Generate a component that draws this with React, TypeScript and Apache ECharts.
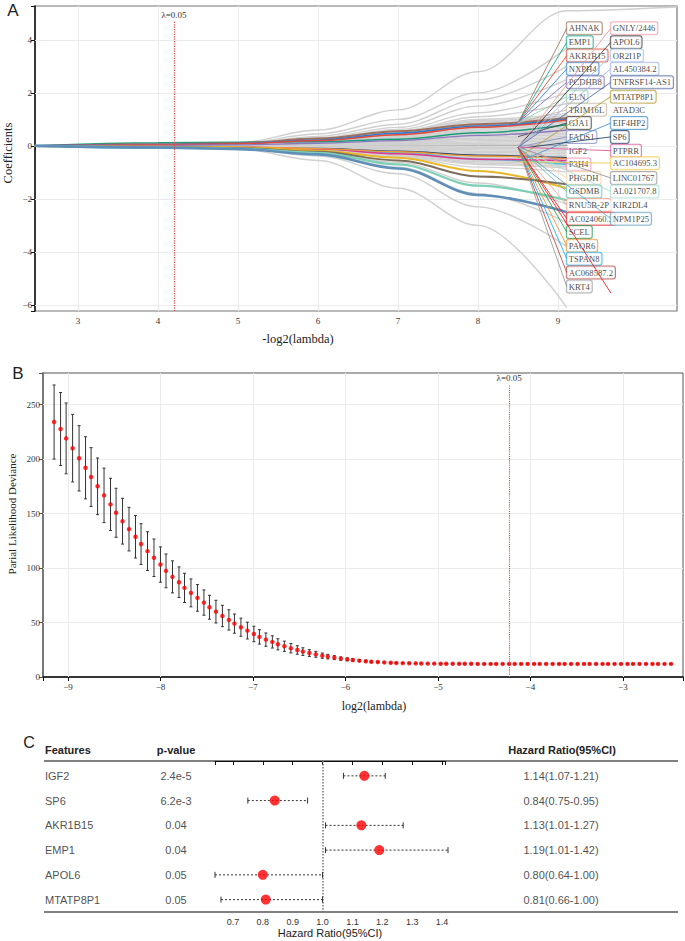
import { useEffect, useRef } from 'react';
import * as echarts from 'echarts';

// ---------------- Panel A: coefficient paths ----------------
const COEF_X = [2.46, 4, 5, 6, 7, 8, 9.11, 10.49];
const GREY_PATHS: number[][] = [
  [0, 0.05, 0.12, 0.6, 1.36, 2.8, 5.1, 5.24],
  [0, 0.04, 0.1, 0.45, 1.0, 2.0, 3.7],
  [0, 0.03, 0.08, 0.36, 0.82, 1.74, 3.0],
  [0, 0.03, 0.07, 0.3, 0.7, 1.5, 2.5],
  [0, 0.02, 0.06, 0.26, 0.62, 1.25, 2.0],
  [0, 0.02, 0.05, 0.22, 0.55, 1.1, 1.6],
  [0, 0.04, 0.1, 0.3, 0.56, 1.0, 1.22],
  [0, 0.03, 0.09, 0.28, 0.52, 0.95, 1.15],
  [0, 0.04, 0.09, 0.27, 0.5, 0.9, 1.1],
  [0, 0.03, 0.08, 0.26, 0.47, 0.85, 1.03],
  [0, 0.03, 0.08, 0.24, 0.44, 0.8, 0.97],
  [0, 0.03, 0.07, 0.22, 0.41, 0.75, 0.9],
  [0, 0.03, 0.07, 0.21, 0.39, 0.7, 0.85],
  [0, 0.02, 0.06, 0.19, 0.36, 0.65, 0.79],
  [0, 0.02, 0.06, 0.18, 0.33, 0.6, 0.72],
  [0, 0.02, 0.05, 0.16, 0.3, 0.55, 0.66],
  [0, 0.02, 0.05, 0.15, 0.28, 0.5, 0.6],
  [0, 0.02, 0.04, 0.13, 0.25, 0.45, 0.55],
  [0, 0.02, 0.04, 0.12, 0.22, 0.4, 0.49],
  [0, 0.01, 0.04, 0.1, 0.19, 0.35, 0.42],
  [0, 0.01, 0.03, 0.09, 0.17, 0.3, 0.36],
  [0, 0.01, 0.03, 0.08, 0.14, 0.25, 0.3],
  [0, 0.01, 0.02, 0.06, 0.11, 0.2, 0.24],
  [0, 0.01, 0.02, 0.05, 0.08, 0.15, 0.18],
  [0, 0.01, 0.01, 0.03, 0.06, 0.1, 0.12],
  [0, 0, 0.01, 0.02, 0.03, 0.05, 0.06],
  [0, 0, 0, 0, 0, 0, 0],
  [0, 0, -0.01, -0.02, -0.03, -0.05, -0.06],
  [0, -0.01, -0.01, -0.03, -0.06, -0.1, -0.12],
  [0, -0.01, -0.02, -0.05, -0.08, -0.15, -0.18],
  [0, -0.01, -0.02, -0.06, -0.11, -0.2, -0.24],
  [0, -0.01, -0.03, -0.08, -0.14, -0.25, -0.3],
  [0, -0.01, -0.03, -0.09, -0.17, -0.3, -0.36],
  [0, -0.02, -0.04, -0.11, -0.19, -0.35, -0.42],
  [0, -0.02, -0.04, -0.12, -0.22, -0.4, -0.48],
  [0, -0.02, -0.05, -0.14, -0.25, -0.45, -0.54],
  [0, -0.02, -0.05, -0.15, -0.28, -0.5, -0.6],
  [0, -0.02, -0.06, -0.17, -0.3, -0.55, -0.66],
  [0, -0.03, -0.06, -0.18, -0.33, -0.6, -0.72],
  [0, -0.03, -0.07, -0.2, -0.36, -0.65, -0.78],
  [0, -0.03, -0.07, -0.21, -0.39, -0.7, -0.84],
  [0, -0.03, -0.08, -0.23, -0.42, -0.8, -0.98],
  [0, -0.03, -0.06, -0.25, -0.62, -1.4, -2.2],
  [0, -0.03, -0.07, -0.3, -0.8, -1.8, -2.9],
  [0, -0.04, -0.09, -0.38, -1.05, -2.3, -3.8],
  [0, -0.05, -0.12, -0.55, -1.6, -3.0, -6.1],
];
const COLOR_PATHS: number[][] = [
  [0, 0.12, 0.14, 0.16, 0.25, 0.5, 0.8],
  [0, 0.06, 0.1, 0.28, 0.55, 0.82, 1.05],
  [0, 0.05, 0.09, 0.22, 0.48, 0.75, 1.0],
  [0, 0.04, 0.08, 0.2, 0.42, 0.7, 0.98],
  [0, 0.02, 0.04, 0.1, 0.2, 0.4, 0.6],
  [0, -0.04, -0.07, -0.1, -0.2, -0.35, -0.45],
  [0, -0.09, -0.1, -0.12, -0.25, -0.5, -0.7],
  [0, -0.02, -0.04, -0.12, -0.3, -0.5, -0.55],
  [0, -0.02, -0.04, -0.1, -0.22, -0.38, -0.48],
  [0, -0.03, -0.06, -0.18, -0.45, -0.95, -1.6],
  [0, -0.04, -0.08, -0.22, -0.55, -1.15, -1.45],
  [0, -0.05, -0.1, -0.26, -0.7, -1.5, -2.05],
  [0, -0.06, -0.12, -0.32, -0.85, -1.85, -2.5],
];
const COLOR_PATH_COLORS = ['#1b9e77', '#a0705a', '#2b7bd6', '#e04a3a', '#8a78c0', '#26456e', '#4cc0e0', '#e2358f', '#f09a35', '#e8b828', '#7d6e5c', '#7dcfb5', '#5f8fb8'];
const COLOR_PATH_WIDTHS = [1.5, 2, 1.6, 1.5, 1.3, 1.5, 1.5, 1.5, 1.3, 2, 2, 2.2, 2.6];
const LAMBDA_A = 4.2;
const A_X_TICKS = [2.4625, 3, 4, 5, 6, 7, 8, 9, 9.1125];
const A_X_LABELS = [3, 4, 5, 6, 7, 8, 9];
const A_Y_TICKS = [-6.23, -6, -4, -2, 0, 2, 4, 5.28];
const A_Y_LABELS = [-6, -4, -2, 0, 2, 4];

const LEFT_GENES = ['AHNAK', 'EMP1', 'AKR1B15', 'NXPH4', 'PCDHB8', 'ELN', 'TRIM16L', 'GJA1', 'FADS1', 'IGF2', 'P3H4', 'PHGDH', 'GSDMB', 'RNU5B-2P', 'AC024060.2', 'SCEL', 'PAQR6', 'TSPAN8', 'AC068587.2', 'KRT4'];
const LEFT_LABEL_Y = [4.44, 3.91, 3.41, 2.91, 2.4, 1.86, 1.36, 0.86, 0.34, -0.18, -0.7, -1.21, -1.72, -2.23, -2.75, -3.25, -3.77, -4.26, -4.78, -5.31];
const LEFT_FROM: (number | null)[] = [0.87, 0.87, 0.87, 0.87, 0.87, 0.87, 0.87, 0.35, -0.05, null, -0.05, -0.05, -0.05, -0.05, -0.05, -0.05, -0.05, -0.05, -0.05, -0.05];
const LEFT_COLORS: (string | null)[] = ['#9c7a68', '#20a88e', '#e0503c', '#3b82c9', '#7b74b3', '#93cfad', '#c9b8a3', '#4a4a4a', '#8f95c8', null, '#ee8fb0', '#f6d6a6', '#66c2b5', '#f3a18e', '#e0262a', '#2f9c57', '#e9963c', '#29ade2', '#b9504f', '#9b9b9b'];
const RIGHT_GENES = ['GNLY/2446', 'APOL6', 'OR2I1P', 'AL450384.2', 'TNFRSF14-AS1', 'MTATP8P1', 'ATAD3C', 'EIF4HP2', 'SP6', 'PTPRR', 'AC104695.3', 'LINC01767', 'AL021707.8', 'KIR2DL4', 'NPM1P25'];
const RIGHT_LABEL_Y = [4.44, 3.91, 3.41, 2.91, 2.4, 1.86, 1.36, 0.86, 0.34, -0.18, -0.65, -1.21, -1.72, -2.23, -2.75];
const RIGHT_FROM: (number | null)[] = [-0.05, -0.05, -0.05, -0.05, -0.05, -0.45, null, -0.6, -0.1, -0.05, -0.6, -0.05, -0.05, null, -0.05];
const RIGHT_COLORS: (string | null)[] = ['#eb9fa6', '#3d3d3d', '#a9c2ea', '#a1b4e2', '#5a70a9', '#b59c36', null, '#4b96cf', '#2b4a6f', '#e05b9c', '#f3c94e', '#9a9a9a', '#a9ddd0', null, '#6ea1c2'];
const EXTRA_LEADERS = [{ from: -0.05, x: 9.66, y: -5.55, color: '#e0262a' }];

// ---------------- Panel B: cross-validation ----------------
const DEV_LOG_LAMBDA = [
  -9.15, -9.08, -9.02, -8.95, -8.88, -8.81, -8.75, -8.68, -8.61, -8.54,
  -8.48, -8.41, -8.34, -8.27, -8.21, -8.14, -8.07, -8.0, -7.94, -7.87,
  -7.8, -7.74, -7.67, -7.6, -7.53, -7.47, -7.4, -7.33, -7.26, -7.2,
  -7.13, -7.06, -6.99, -6.93, -6.86, -6.79, -6.73, -6.66, -6.59, -6.52,
  -6.46, -6.39, -6.32, -6.25, -6.19, -6.12, -6.05, -5.98, -5.92, -5.85,
  -5.78, -5.72, -5.65, -5.58, -5.51, -5.45, -5.38, -5.31, -5.24, -5.18,
  -5.11, -5.04, -4.97, -4.91, -4.84, -4.77, -4.71, -4.64, -4.57, -4.5,
  -4.43, -4.37, -4.3, -4.23, -4.17, -4.1, -4.03, -3.96, -3.9, -3.83,
  -3.76, -3.69, -3.63, -3.56, -3.49, -3.42, -3.36, -3.29, -3.22, -3.16,
  -3.09, -3.02, -2.95, -2.89, -2.82, -2.75, -2.68, -2.62, -2.55, -2.48,
];
const DEV_MEAN = [
  234, 227.6, 219, 210, 200.7, 192, 183.5, 175, 166.7, 158.4,
  150.7, 143, 135.7, 128.7, 122, 115.5, 109.4, 103.2, 97.4, 91.9,
  87, 81.8, 77.2, 72.6, 68.3, 64, 60, 56, 52.4, 49,
  45.7, 42.6, 39.5, 36.8, 34.3, 32.2, 30, 28.2, 26.4, 24.8,
  23.3, 22, 20.8, 19.6, 18.7, 17.8, 16.9, 16.2, 15.6, 15,
  14.4, 14, 13.7, 13.4, 13.1, 12.9, 12.7, 12.6, 12.5, 12.4,
  12.3, 12.3, 12.2, 12.2, 12.1, 12.1, 12.1, 12.1, 12, 12,
  12, 12, 12, 12, 12, 12, 12, 12, 12, 12,
  12, 12, 12, 12, 12, 12, 12, 12, 12, 12,
  12, 12, 12, 12, 12, 12, 12, 12, 12, 12,
];
const DEV_ERR = [
  34, 33.5, 32.5, 31, 30, 28.5, 27, 26, 25, 24,
  22.5, 21, 20, 19.5, 18.7, 17.8, 17.2, 16.2, 15.5, 14.7,
  14, 13.4, 12.8, 12.2, 11.6, 11, 10.4, 9.8, 9.3, 8.8,
  8.3, 7.7, 7.1, 6.6, 6.1, 5.6, 5.1, 4.7, 4.3, 3.9,
  3.5, 3.1, 2.7, 2.4, 2.1, 1.8, 1.5, 1.3, 1.1, 0.9,
  0.7, 0.6, 0.5, 0.4, 0.4, 0.3, 0.3, 0.3, 0.2, 0.2,
  0.2, 0.2, 0.2, 0.2, 0.2, 0.2, 0.2, 0.2, 0.2, 0.2,
  0.2, 0.2, 0.2, 0.2, 0.2, 0.2, 0.2, 0.2, 0.2, 0.2,
  0.2, 0.2, 0.2, 0.2, 0.2, 0.2, 0.2, 0.2, 0.2, 0.2,
  0.2, 0.2, 0.2, 0.2, 0.2, 0.2, 0.2, 0.2, 0.2, 0.2,
];
const LAMBDA_B = -4.23;
const B_X_TICKS = [-9.27, -9, -8, -7, -6, -5, -4, -3, -2.35];
const B_X_LABELS = [-9, -8, -7, -6, -5, -4, -3];
const B_Y_TICKS = [0, 50, 100, 150, 200, 250, 279];
const B_Y_LABELS = [0, 50, 100, 150, 200, 250];

// ---------------- Panel C: forest ----------------
const FEATURES = ['IGF2', 'SP6', 'AKR1B15', 'EMP1', 'APOL6', 'MTATP8P1'];
const P_VALUES = ['2.4e-5', '6.2e-3', '0.04', '0.04', '0.05', '0.05'];
const HR = [1.14, 0.84, 1.13, 1.19, 0.8, 0.81];
const HR_LOW = [1.07, 0.75, 1.01, 1.01, 0.64, 0.66];
const HR_HIGH = [1.21, 0.95, 1.27, 1.42, 1.0, 1.0];
const C_X_TICKS = [0.64, 0.7, 0.8, 0.9, 1.0, 1.1, 1.2, 1.3, 1.4, 1.41];
const C_X_LABELS = [0.7, 0.8, 0.9, 1.0, 1.1, 1.2, 1.3, 1.4];

const SERIF = '"Liberation Serif", "Times New Roman", serif';
const SANS = '"Liberation Sans", Arial, sans-serif';
const minusFmt = (v: number) => String(v).replace('-', '\u2212');

function txt(x: number, y: number, text: string, font: string, align = 'center', extra: any = {}) {
  return {
    type: 'text', x, y, silent: true, ...extra,
    style: { text, font, fill: '#222', align, verticalAlign: 'middle', textAlign: align, textVerticalAlign: 'middle' },
  };
}

function gridLines(xi: number, yi: number, xs: number[], ys: number[]) {
  return {
    type: 'scatter', xAxisIndex: xi, yAxisIndex: yi, data: [], z: 1, silent: true,
    markLine: {
      z: 1, silent: true, symbol: 'none', animation: false, label: { show: false },
      lineStyle: { color: '#ebebeb', type: 'solid', width: 1 },
      data: [...xs.map((v) => ({ xAxis: v })), ...ys.map((v) => ({ yAxis: v }))],
    },
  };
}

function buildOption(): any {
  const LEFT_X = 9.11;
  const RIGHT_X = 9.66;
  const ORIGIN_X = 8.5;
  const leaders: { from: number; x: number; y: number; color: string }[] = [];
  LEFT_GENES.forEach((_, i) => {
    const f = LEFT_FROM[i];
    const c = LEFT_COLORS[i];
    if (f !== null && c) leaders.push({ from: f, x: LEFT_X, y: LEFT_LABEL_Y[i], color: c });
  });
  RIGHT_GENES.forEach((_, i) => {
    const f = RIGHT_FROM[i];
    const c = RIGHT_COLORS[i];
    if (f !== null && c) leaders.push({ from: f, x: RIGHT_X, y: RIGHT_LABEL_Y[i], color: c });
  });
  EXTRA_LEADERS.forEach((l) => leaders.push(l));

  const labelBase = {
    show: true, position: 'right', distance: 0,
    formatter: (p: any) => p.name,
    fontFamily: SERIF, fontSize: 8.6, color: '#111', lineHeight: 10,
    backgroundColor: '#fff', borderWidth: 1, borderRadius: 2, padding: [1, 2, 1, 2],
  };

  const series: any[] = [];
  series.push(gridLines(0, 0, A_X_LABELS, []));
  series.push(gridLines(1, 1, [], A_Y_LABELS));
  series.push(gridLines(2, 2, B_X_LABELS, B_Y_LABELS.filter((v) => v > 0)));

  GREY_PATHS.forEach((vals) => {
    series.push({
      type: 'line', xAxisIndex: 1, yAxisIndex: 1, silent: true, z: 2,
      data: vals.map((v, i) => [COEF_X[i], v]),
      smooth: 0.35, smoothMonotone: 'x', symbol: 'none',
      lineStyle: { color: '#d0d0d0', width: 1.4 },
    });
  });
  COLOR_PATHS.forEach((vals, k) => {
    series.push({
      type: 'line', xAxisIndex: 1, yAxisIndex: 1, silent: true, z: 3,
      data: vals.map((v, i) => [COEF_X[i], v]),
      smooth: 0.35, smoothMonotone: 'x', symbol: 'none',
      lineStyle: { color: COLOR_PATH_COLORS[k], width: COLOR_PATH_WIDTHS[k] },
    });
  });
  series.push({
    type: 'scatter', xAxisIndex: 0, yAxisIndex: 0, data: [], z: 6, silent: true,
    markLine: {
      z: 6, silent: true, symbol: 'none', animation: false,
      lineStyle: { color: '#e04848', type: 'dotted', width: 1.2 },
      label: { show: true, position: 'end', formatter: '\u03bb=0.05', fontFamily: SERIF, fontSize: 9, color: '#333', distance: 1 },
      data: [[{ coord: [LAMBDA_A, -6.23] }, { coord: [LAMBDA_A, 4.72] }]],
    },
  });
  series.push({
    type: 'scatter', xAxisIndex: 1, yAxisIndex: 1, symbolSize: 0, z: 4, silent: true,
    data: LEFT_GENES.map((g, i) => ({ name: g, value: [LEFT_X, LEFT_LABEL_Y[i]], label: { borderColor: LEFT_COLORS[i] || 'rgba(0,0,0,0)' } })),
    label: labelBase,
  });
  series.push({
    type: 'scatter', xAxisIndex: 1, yAxisIndex: 1, symbolSize: 0, z: 4, silent: true,
    data: RIGHT_GENES.map((g, i) => ({ name: g, value: [RIGHT_X, RIGHT_LABEL_Y[i]], label: { borderColor: RIGHT_COLORS[i] || 'rgba(0,0,0,0)' } })),
    label: labelBase,
  });
  series.push({
    type: 'custom', xAxisIndex: 1, yAxisIndex: 1, z: 5, silent: true,
    data: leaders.map((l) => [ORIGIN_X, l.from, l.x, l.y]),
    encode: { x: [0, 2], y: [1, 3] },
    renderItem: (params: any, api: any) => {
      const s = api.coord([api.value(0), api.value(1)]);
      const e = api.coord([api.value(2), api.value(3)]);
      return { type: 'line', shape: { x1: s[0], y1: s[1], x2: e[0], y2: e[1] }, style: { stroke: leaders[params.dataIndex].color, lineWidth: 0.9 } };
    },
  });

  // Panel B
  series.push({
    type: 'custom', xAxisIndex: 2, yAxisIndex: 2, z: 3, silent: true,
    data: DEV_LOG_LAMBDA.map((x, i) => [x, DEV_MEAN[i] - DEV_ERR[i], DEV_MEAN[i] + DEV_ERR[i]]),
    encode: { x: 0, y: [1, 2] },
    renderItem: (_p: any, api: any) => {
      const t = api.coord([api.value(0), api.value(2)]);
      const b = api.coord([api.value(0), api.value(1)]);
      const st = { stroke: '#333', lineWidth: 1 };
      return {
        type: 'group', children: [
          { type: 'line', shape: { x1: t[0], y1: t[1], x2: b[0], y2: b[1] }, style: st },
          { type: 'line', shape: { x1: t[0] - 1.5, y1: t[1], x2: t[0] + 1.5, y2: t[1] }, style: st },
          { type: 'line', shape: { x1: b[0] - 1.5, y1: b[1], x2: b[0] + 1.5, y2: b[1] }, style: st },
        ],
      };
    },
  });
  series.push({
    type: 'scatter', xAxisIndex: 2, yAxisIndex: 2, z: 4, silent: true,
    symbol: 'circle', symbolSize: 4.5, itemStyle: { color: '#ff0000' },
    data: DEV_LOG_LAMBDA.map((x, i) => [x, DEV_MEAN[i]]),
    markLine: {
      z: 6, silent: true, symbol: 'none', animation: false,
      lineStyle: { color: '#d84848', type: 'dotted', width: 1.1 },
      label: { show: true, position: 'end', formatter: '\u03bb=0.05', fontFamily: SERIF, fontSize: 9, color: '#333', distance: 2 },
      data: [[{ coord: [LAMBDA_B, 0] }, { coord: [LAMBDA_B, 268] }]],
    },
  });

  // Panel C
  series.push({
    type: 'custom', xAxisIndex: 3, yAxisIndex: 3, z: 3, silent: true, clip: false,
    data: FEATURES.map((_, i) => [HR_LOW[i], HR_HIGH[i], i + 0.6]),
    encode: { x: [0, 1], y: 2 },
    renderItem: (_p: any, api: any) => {
      const a = api.coord([api.value(0), api.value(2)]);
      const b = api.coord([api.value(1), api.value(2)]);
      const st = { stroke: '#333', lineWidth: 1 };
      return {
        type: 'group', children: [
          { type: 'line', shape: { x1: a[0], y1: a[1], x2: b[0], y2: b[1] }, style: { ...st, lineDash: [2, 2] } },
          { type: 'line', shape: { x1: a[0], y1: a[1] - 3, x2: a[0], y2: a[1] + 3 }, style: st },
          { type: 'line', shape: { x1: b[0], y1: b[1] - 3, x2: b[0], y2: b[1] + 3 }, style: st },
        ],
      };
    },
  });
  series.push({
    type: 'scatter', xAxisIndex: 3, yAxisIndex: 3, z: 5, silent: true,
    symbol: 'circle', symbolSize: 10, itemStyle: { color: '#ff0000' },
    data: FEATURES.map((_, i) => [HR[i], i + 0.6]),
    markLine: {
      z: 2, silent: true, symbol: 'none', animation: false, label: { show: false },
      lineStyle: { color: '#777', type: 'dotted', width: 1.5 },
      data: [[{ coord: [1, 0] }, { coord: [1, 6.1] }]],
    },
  });
  const tableText = (x: number, texts: string[], align: string) => ({
    type: 'scatter', xAxisIndex: 4, yAxisIndex: 4, symbolSize: 0, z: 5, silent: true,
    data: texts.map((t, i) => ({ name: t, value: [x, i + 0.6] })),
    label: { show: true, position: 'inside', align, verticalAlign: 'middle', formatter: (p: any) => p.name, fontFamily: SANS, fontSize: 11, color: '#222' },
  });
  series.push(tableText(45, FEATURES, 'left'));
  series.push(tableText(176, P_VALUES, 'center'));
  series.push(tableText(561, FEATURES.map((_, i) => `${HR[i].toFixed(2)}(${HR_LOW[i].toFixed(2)}-${HR_HIGH[i].toFixed(2)})`), 'center'));

  const serifLabel = (vals: number[], margin: number) => ({ customValues: vals, fontFamily: SERIF, fontSize: 9, color: '#333', margin, formatter: minusFmt });
  const tick = (vals: number[], color = '#111') => ({ show: true, customValues: vals, length: 4, lineStyle: { color } });

  return {
    animation: false,
    backgroundColor: '#fff',
    grid: [
      { left: 35, top: 6, width: 532, height: 305, outerBoundsMode: 'none' },
      { left: 35, top: 6, width: 642, height: 305, show: true, borderColor: '#777', borderWidth: 1.2, backgroundColor: 'rgba(0,0,0,0)', outerBoundsMode: 'none' },
      { left: 43, top: 373, width: 640, height: 304, show: true, borderColor: '#555', borderWidth: 1, backgroundColor: 'rgba(0,0,0,0)', outerBoundsMode: 'none' },
      { left: 215, top: 761, width: 230, height: 151, outerBoundsMode: 'none' },
      { left: 0, top: 761, width: 685, height: 151, outerBoundsMode: 'none' },
    ],
    xAxis: [
      { gridIndex: 0, type: 'value', min: 2.4625, max: 9.1125,
        axisLine: { lineStyle: { color: '#111', width: 1.5 } }, axisTick: tick(A_X_TICKS),
        axisLabel: serifLabel(A_X_LABELS, 5), splitLine: { show: false } },
      { gridIndex: 1, type: 'value', min: 2.4625, max: 10.4875, show: false },
      { gridIndex: 2, type: 'value', min: -9.27, max: -2.35,
        axisLine: { lineStyle: { color: '#111', width: 1.5 } }, axisTick: tick(B_X_TICKS),
        axisLabel: serifLabel(B_X_LABELS, 5), splitLine: { show: false } },
      { gridIndex: 3, type: 'value', min: 0.64, max: 1.41,
        axisLine: { lineStyle: { color: '#111', width: 1 } }, axisTick: tick(C_X_TICKS),
        axisLabel: { customValues: C_X_LABELS, fontFamily: SANS, fontSize: 9, color: '#333', margin: 5, formatter: (v: number) => v.toFixed(1) },
        splitLine: { show: false },
        name: 'Hazard Ratio(95%CI)', nameLocation: 'middle', nameGap: 15, nameTextStyle: { fontFamily: SANS, fontSize: 11, color: '#222' } },
      { gridIndex: 4, type: 'value', min: 0, max: 685, show: false },
    ],
    yAxis: [
      { gridIndex: 0, type: 'value', min: -6.23, max: 5.28,
        axisLine: { show: true, lineStyle: { color: '#111', width: 1.5 } }, axisTick: tick(A_Y_TICKS),
        axisLabel: serifLabel(A_Y_LABELS, 3), splitLine: { show: false } },
      { gridIndex: 1, type: 'value', min: -6.23, max: 5.28,
        axisLine: { show: false }, axisTick: { show: false }, axisLabel: { show: false }, splitLine: { show: false } },
      { gridIndex: 2, type: 'value', min: 0, max: 279,
        axisLine: { show: true, lineStyle: { color: '#777', width: 2 } }, axisTick: tick(B_Y_TICKS, '#555'),
        axisLabel: serifLabel(B_Y_LABELS, 3), splitLine: { show: false } },
      { gridIndex: 3, type: 'value', min: 0, max: 6.1, inverse: true, show: false },
      { gridIndex: 4, type: 'value', min: 0, max: 6.1, inverse: true, show: false },
    ],
    graphic: [
      txt(13, 10, 'A', `17px ${SANS}`),
      txt(18, 373, 'B', `17px ${SANS}`),
      txt(29, 742, 'C', `16px ${SANS}`),
      txt(8, 153, 'Coefficients', `12.5px ${SERIF}`, 'center', { rotation: Math.PI / 2 }),
      txt(298, 339, '-log2(lambda)', `12.5px ${SERIF}`),
      txt(12, 514, 'Parial Likelihood Deviance', `11px ${SERIF}`, 'center', { rotation: Math.PI / 2 }),
      txt(374, 706, 'log2(lambda)', `12px ${SERIF}`),
      txt(45, 750, 'Features', `bold 11px ${SANS}`, 'left'),
      txt(176, 750, 'p-value', `bold 11px ${SANS}`, 'center'),
      txt(562, 750, 'Hazard Ratio(95%CI)', `bold 11px ${SANS}`, 'center'),
      { type: 'line', silent: true, shape: { x1: 44, y1: 761, x2: 678, y2: 761 }, style: { stroke: '#808080', lineWidth: 2 } },
      { type: 'line', silent: true, z: -1, shape: { x1: 44, y1: 912, x2: 678, y2: 912 }, style: { stroke: '#808080', lineWidth: 2 } },
    ],
    series,
  };
}

export default function App() {
  const ref = useRef<HTMLDivElement>(null);
  useEffect(() => {
    const chart = echarts.init(ref.current as HTMLDivElement, null, { renderer: 'svg' });
    chart.setOption(buildOption());
    return () => chart.dispose();
  }, []);
  return <div ref={ref} style={{ position: 'absolute', left: 0, top: 0, width: 685, height: 941, background: '#fff' }} />;
}
